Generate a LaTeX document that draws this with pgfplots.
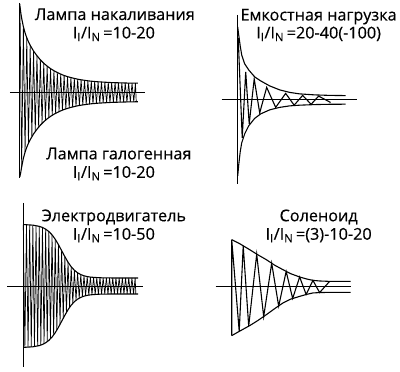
\documentclass[border=0pt]{standalone}
\usepackage{pgfplots}
\pgfplotsset{compat=1.18}
\usepackage{fontspec}
\setmainfont[FakeBold=0.4]{Open Sans}
\newcommand{\tf}{\fontsize{16.3}{18}\selectfont}
\begin{document}
\begin{tikzpicture}
\begin{axis}[width=400bp, height=372bp, scale only axis,
  xmin=0, xmax=400, ymin=0, ymax=372, y dir=reverse,
  hide axis, clip=false]
\path (axis cs:0,0) rectangle (axis cs:400,372);
% ---------- panel 1: axes
\addplot[black, line width=1.1pt] coordinates {(19.5,3) (19.5,178)};
\addplot[black, line width=1.1pt] coordinates {(10,92.7) (145,92.7)};
% envelope
\addplot[black, line width=1.1pt, line join=round] coordinates {
(19.8,4) (20,6.6) (20.8,12.7) (21.7,18.4) (23.4,26.7) (25.1,32.9) (26.8,37.8) (28.5,41.8) (30.2,45.3) (33.6,51.1) (37,55.8) (40.4,59.9) (43.8,63.3) (47.2,66.2) (50.6,68.7) (54,70.8) (57.4,72.6) (60.8,74.2) (64.2,75.6) (67.6,76.7) (71,77.7) (74.4,78.5) (77.8,79.3) (81.2,79.9) (84.6,80.4) (88,80.9) (91.4,81.3) (94.8,81.6) (98.2,81.9) (101.6,82.1) (105,82.3) (108.4,82.5) (111.8,82.7) (115.2,82.8) (118.6,82.9) (122,83.0) (125.4,83.1) (128.8,83.2) (132.2,83.2) (135.6,83.3) (138,83.3)};
\addplot[black, line width=1.1pt, line join=round] coordinates {
(19.8,177) (20,176.5) (20.8,172.5) (21.7,166.8) (23.4,158.5) (25.1,152.3) (26.8,147.4) (28.5,143.4) (30.2,139.9) (33.6,134.1) (37,129.4) (40.4,125.3) (43.8,121.9) (47.2,119) (50.6,116.5) (54,114.4) (57.4,112.6) (60.8,111) (64.2,109.6) (67.6,108.5) (71,107.5) (74.4,106.7) (77.8,105.9) (81.2,105.3) (84.6,104.8) (88,104.3) (91.4,103.9) (94.8,103.6) (98.2,103.3) (101.6,103.1) (105,102.9) (108.4,102.7) (111.8,102.5) (115.2,102.4) (118.6,102.3) (122,102.2) (125.4,102.1) (128.8,102) (132.2,102) (135.6,101.9) (138,101.9)};
% waveform
\addplot[black, line width=0.7pt, line join=miter] coordinates {
(20.0,6.6) (21.7,166.8) (23.4,26.7) (25.1,152.3) (26.8,37.8) (28.5,143.4) (30.2,45.3) (31.9,136.9) (33.6,51.1) (35.3,131.6) (37.0,55.8) (38.7,127.3) (40.4,59.9) (42.1,123.6) (43.8,63.3) (45.5,120.4) (47.2,66.2) (48.9,117.7) (50.6,68.7) (52.3,115.4) (54.0,70.8) (55.7,113.4) (57.4,72.6) (59.1,111.7) (60.8,74.2) (62.5,110.3) (64.2,75.6) (65.9,109.1) (67.6,76.7) (69.3,108.0) (71.0,77.7) (72.7,107.1) (74.4,78.5) (76.1,106.3) (77.8,79.3) (79.5,105.6) (81.2,79.9) (82.9,105.0) (84.6,80.4) (86.3,104.5) (88.0,80.9) (89.7,104.1) (91.4,81.3) (93.1,103.8) (94.8,81.6) (96.5,103.5) (98.2,81.9) (99.9,103.2) (101.6,82.1) (103.3,103.0) (105.0,82.3) (106.7,102.8) (108.4,82.5) (110.1,102.6) (111.8,82.7) (113.5,102.5) (115.2,82.8) (116.9,102.3) (118.6,82.9) (120.3,102.2) (122.0,83.0) (123.7,102.1) (125.4,83.1) (127.1,102.1) (128.8,83.2) (130.5,102.0) (132.2,83.2) (133.9,101.9) (135.6,83.3) (136.4,101.9)};
% ---------- panel 2
\addplot[black, line width=1.1pt] coordinates {(238,15) (238,184)};
\addplot[black, line width=1.1pt] coordinates {(222,100) (357,100)};
\addplot[black, line width=1.1pt, line join=round] coordinates {
(238,27) (239,35) (240.5,46) (242,55) (245,64) (249,70) (255,77) (261,81) (270,86) (280,90) (290,92.5) (300,94) (315,95) (330,95.5) (346,95.7)};
\addplot[black, line width=1.1pt, line join=round] coordinates {
(238,176) (239,165) (240.5,152) (242,143) (245,134) (249,126) (255,118.5) (261,114) (270,110) (280,107.5) (290,106) (300,105.3) (315,104.7) (330,104.4) (346,104.3)};
\addplot[black, line width=1.1pt, line join=miter] coordinates {
(238.5,38) (242.5,138) (246,72) (249.5,124) (254.5,79) (260,113) (267,87.5) (276,107.5) (286,93.5) (294.5,105.3) (303,95.5) (311.5,104.4) (319,96.2) (331,102.6)};
% ---------- panel 3
\addplot[black, line width=1.1pt] coordinates {(23.3,203) (23.3,367)};
\addplot[black, line width=1.1pt] coordinates {(7.5,286.5) (143.5,286.5)};
\addplot[black, line width=1.1pt, line join=round] coordinates {
(23.3,224.8) (32.9,225.4) (39.3,226.6) (42.5,227.7) (45.7,229.4) (48.9,231.8) (52.1,235.1) (55.3,239.5) (58.5,244.9) (61.7,250.9) (64.9,256.9) (68.1,262.5) (71.3,267.1) (74.5,270.6) (77.7,273.1) (80.9,274.9) (84.1,276.1) (87.3,276.9) (90.5,277.4) (93.7,277.7) (96.9,277.9) (100.1,278.1) (106.5,278.2) (112.9,278.3) (138.3,278.3)};
\addplot[black, line width=1.1pt, line join=round] coordinates {
(23.3,347.8) (32.9,347.2) (39.3,346) (42.5,344.9) (45.7,343.2) (48.9,340.8) (52.1,337.5) (55.3,333.1) (58.5,327.7) (61.7,321.7) (64.9,315.7) (68.1,310.1) (71.3,305.5) (74.5,302) (77.7,299.5) (80.9,297.7) (84.1,296.5) (87.3,295.7) (90.5,295.2) (93.7,294.9) (96.9,294.7) (100.1,294.5) (106.5,294.4) (112.9,294.3) (138.3,294.3)};
\addplot[black, line width=0.7pt, line join=miter] coordinates {
(23.3,224.8) (24.9,347.7) (26.5,224.9) (28.1,347.6) (29.7,225.1) (31.3,347.3) (32.9,225.4) (34.5,347.0) (36.1,225.9) (37.7,346.4) (39.3,226.6) (40.9,345.5) (42.5,227.7) (44.1,344.1) (45.7,229.4) (47.3,342.2) (48.9,231.8) (50.5,339.3) (52.1,235.1) (53.7,335.4) (55.3,239.5) (56.9,330.5) (58.5,244.9) (60.1,324.8) (61.7,250.9) (63.3,318.7) (64.9,256.9) (66.5,312.8) (68.1,262.5) (69.7,307.7) (71.3,267.1) (72.9,303.6) (74.5,270.6) (76.1,300.6) (77.7,273.1) (79.3,298.5) (80.9,274.9) (82.5,297.0) (84.1,276.1) (85.7,296.1) (87.3,276.9) (88.9,295.4) (90.5,277.4) (92.1,295.0) (93.7,277.7) (95.3,294.8) (96.9,277.9) (98.5,294.6) (100.1,278.1) (101.7,294.5) (103.3,278.2) (104.9,294.4) (106.5,278.2) (108.1,294.4) (109.7,278.3) (111.3,294.3) (112.9,278.3) (114.5,294.3) (116.1,278.3) (117.7,294.3) (119.3,278.3) (120.9,294.3) (122.5,278.3) (124.1,294.3) (125.7,278.3) (127.3,294.3) (128.9,278.3) (130.5,294.3) (132.1,278.3) (133.7,294.3) (135.3,278.3) (136,294.3)};
% ---------- panel 4
\addplot[black, line width=1.1pt] coordinates {(216,286.5) (351.7,286.5)};
\addplot[black, line width=1.1pt, line join=round] coordinates {
(232,240) (240,244) (250,250) (258,255) (266.7,260) (275,265.5) (283.3,270) (291,274) (300,277.3) (307,279.3) (313.3,280.7) (320,281.3) (330,281.7) (351,281.7)};
\addplot[black, line width=1.1pt, line join=round] coordinates {
(232,336) (240,331.5) (250,326) (258,321) (266.7,315) (275,309) (283.3,303.3) (291,299.5) (300,296.7) (307,294.7) (313.3,293.3) (320,292.9) (330,292.7) (351,292.7)};
\addplot[black, line width=1.1pt, line join=miter] coordinates {
(232,336) (232,240) (239.5,331.8) (243.5,246.2) (249,326.5) (257,254.5) (264,317) (272,263.5) (279,306.5) (286.5,271.8) (293,298.8) (300,277.3) (306.5,294.8) (313.3,280.7) (320,292.9) (330,281.7)};
% ---------- texts
\node[anchor=base, font=\tf] at (axis cs:115,20) {Лампа накаливания};
\node[anchor=base, font=\tf] at (axis cs:114,38.5) {I\textsubscript{I}/I\textsubscript{N}\,=10-20};
\node[anchor=base, font=\tf] at (axis cs:119,159.5) {Лампа галогенная};
\node[anchor=base, font=\tf] at (axis cs:114,178) {I\textsubscript{I}/I\textsubscript{N}\,=10-20};
\node[anchor=base, font=\tf] at (axis cs:319,20.5) {Емкостная нагрузка};
\node[anchor=base, font=\tf] at (axis cs:319,38.5) {I\textsubscript{I}/I\textsubscript{N}\,=20-40(-100)};
\node[anchor=base, font=\tf] at (axis cs:114,221.5) {Электродвигатель};
\node[anchor=base, font=\tf] at (axis cs:114,240) {I\textsubscript{I}/I\textsubscript{N}\,=10-50};
\node[anchor=base, font=\tf] at (axis cs:319,221.5) {Соленоид};
\node[anchor=base, font=\tf] at (axis cs:319,240) {I\textsubscript{I}/I\textsubscript{N}\,=(3)-10-20};
\end{axis}
\end{tikzpicture}
\end{document}
